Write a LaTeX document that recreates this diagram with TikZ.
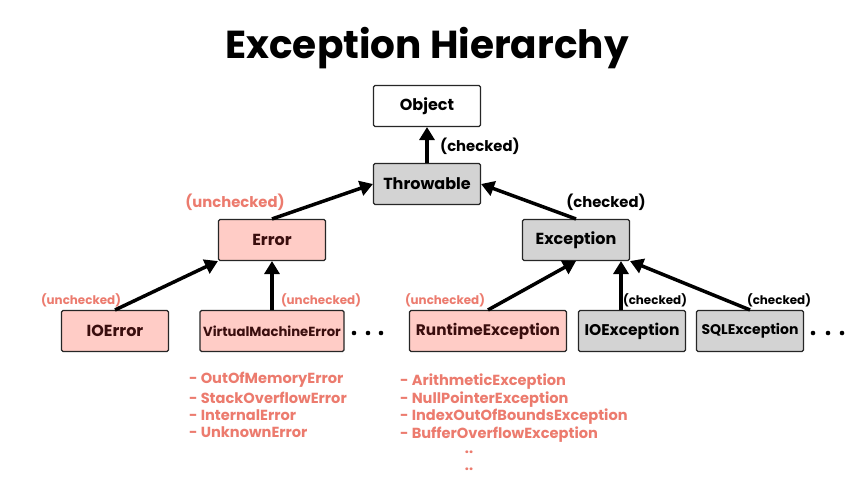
\documentclass[tikz,border=0pt]{standalone}
\usepackage{fontspec}
\setmainfont{Poppins}
\usetikzlibrary{arrows.meta}
\definecolor{salmon}{HTML}{EC7B6E}
\definecolor{pinkfill}{HTML}{FFCCC6}
\definecolor{grayfill}{HTML}{D3D3D3}
\definecolor{darktxt}{HTML}{3A0E0E}
\begin{document}
\begin{tikzpicture}[x=1pt,y=-1pt,
  box/.style={draw=black!85, line width=1.1pt, rounded corners=1.5pt, minimum width=107pt, minimum height=41pt, inner sep=0pt, font=\bfseries\fontsize{16}{19}\selectfont},
  pinkbox/.style={box, fill=pinkfill, text=darktxt},
  graybox/.style={box, fill=grayfill},
  whitebox/.style={box, fill=white},
  arr/.style={line width=3.5pt, -{Triangle[length=13pt,width=15pt]}},
  lbl/.style={font=\bfseries\fontsize{14.8}{17}\selectfont, inner sep=0pt},
  slbl/.style={font=\bfseries\fontsize{11.9}{14}\selectfont, inner sep=0pt},
  item/.style={font=\bfseries\fontsize{14.6}{17}\selectfont, text=salmon, anchor=west, inner sep=0pt},
  dotc/.style={fill=black, draw=none}
]
\useasboundingbox (0,0) rectangle (854,480);
\fill[white] (0,0) rectangle (854,480);

\node[font=\bfseries\fontsize{39}{46}\selectfont] (title) at (427,48) {Exception Hierarchy};

\node[whitebox] (obj) at (427,106) {Object};
\node[graybox] (thr) at (427,184) {Throwable};
\node[pinkbox] (err) at (272,240) {Error};
\node[graybox] (exc) at (576,240) {Exception};
\node[pinkbox] (ioerr) at (115,331) {IOError};
\node[pinkbox, minimum width=144pt, font=\bfseries\fontsize{13.2}{16}\selectfont] (vme) at (272,331) {VirtualMachineError};
\node[pinkbox, minimum width=157pt, font=\bfseries\fontsize{15.3}{18}\selectfont] (rte) at (488,331) {RuntimeException};
\node[graybox, font=\bfseries\fontsize{15.5}{18}\selectfont] (ioe) at (632,331) {IOException};
\node[graybox, font=\bfseries\fontsize{14}{17}\selectfont] (sql) at (750,331) {SQLException};

\draw[arr] (thr.north) -- (obj.south);
\draw[arr] (err.north) -- (thr.west);
\draw[arr] (exc.north) -- (thr.east);
\draw[arr] (ioerr.north) -- (err.south west);
\draw[arr] (vme.north) -- (err.south);
\draw[arr] (rte.north) -- (exc.south);
\draw[arr] ([xshift=-11pt]ioe.north) -- ([xshift=-11pt]ioe.north |- exc.south);
\draw[arr] (sql.north) -- (exc.south east);

\node[lbl, anchor=west] (l1) at (440,146) {(checked)};
\node[lbl, text=salmon] (l2) at (235,202) {(unchecked)};
\node[lbl] (l3) at (606,202) {(checked)};
\node[slbl, text=salmon] (l4) at (81,300) {(unchecked)};
\node[slbl, text=salmon] (l5) at (321,300) {(unchecked)};
\node[slbl, text=salmon] (l6) at (445,300) {(unchecked)};
\node[slbl] (l7) at (655,300) {(checked)};
\node[slbl] (l8) at (779,300) {(checked)};

\foreach \x in {354,368,381,813,828,842} \fill[dotc] (\x,333) circle (2.3pt);

\node[item] (a1) at (189,380) {- OutOfMemoryError};
\node[item] (a2) at (189,397.5) {- StackOverflowError};
\node[item] (a3) at (189,415) {- InternalError};
\node[item] (a4) at (189,432.5) {- UnknownError};

\node[item] (b1) at (400,382) {- ArithmeticException};
\node[item] (b2) at (400,399.5) {- NullPointerException};
\node[item] (b3) at (400,417) {- IndexOutOfBoundsException};
\node[item] (b4) at (400,434.5) {- BufferOverflowException};
\node[item, anchor=center] (b5) at (469,452) {..};
\node[item, anchor=center] (b6) at (469,469) {..};
\end{tikzpicture}
\end{document}
